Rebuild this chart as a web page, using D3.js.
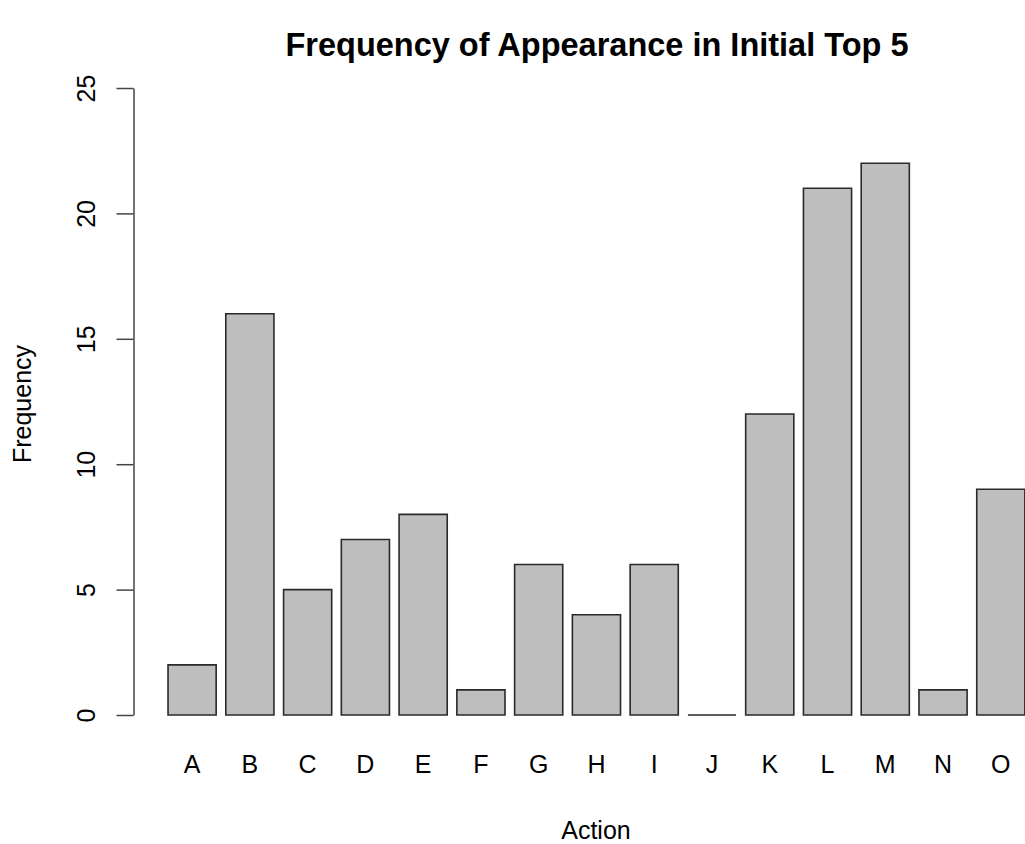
<!DOCTYPE html>
<html>
<head>
<meta charset="utf-8">
<script src="https://cdn.jsdelivr.net/npm/d3@7/dist/d3.min.js"></script>
<style>
  html, body { margin: 0; padding: 0; background: #fff; overflow: hidden; }
  text { font-family: "Liberation Sans", Arial, Helvetica, sans-serif; fill: #000; }
</style>
</head>
<body>
<svg id="chart" width="1025" height="844"></svg>
<script>
const categories = ["A","B","C","D","E","F","G","H","I","J","K","L","M","N","O"];
const values = [2,16,5,7,8,1,6,4,6,0,12,21,22,1,9];
const yTicks = [0,5,10,15,20,25];
const titleText = "Frequency of Appearance in Initial Top 5";
const xLabel = "Action";
const yLabel = "Frequency";

const svg = d3.select("#chart");

// R barplot geometry: bar width 1, space 0.2
const barW = 1, space = 0.2;
const lefts = categories.map((c, i) => space + i * (barW + space));
const x = d3.scaleLinear().domain([0, 18.2]).range([158.4, 1034.5]);
const y = d3.scaleLinear().domain([0, 25]).range([715, 88]);

// bars as closed paths (so zero-height bars still show their outline)
svg.append("g").selectAll("path").data(values).join("path")
  .attr("d", (d, i) => {
    const x0 = x(lefts[i]), x1 = x(lefts[i] + barW), y0 = y(0), y1 = y(d);
    return `M${x0},${y0}H${x1}V${y1}H${x0}Z`;
  })
  .attr("fill", "#bebebe")
  .attr("stroke", "#2a2a2a")
  .attr("stroke-width", 1.6);

// x labels
svg.append("g").selectAll("text").data(categories).join("text")
  .attr("x", (d, i) => x(lefts[i] + barW / 2))
  .attr("y", 773)
  .attr("text-anchor", "middle")
  .attr("font-size", 25)
  .text(d => d);

// y axis
const yAxis = d3.axisLeft(y).tickValues(yTicks).tickSize(17).tickSizeOuter(0).tickFormat(d3.format("d"));
const gy = svg.append("g").attr("transform", "translate(133.5,0)").call(yAxis);
gy.select(".domain").attr("stroke", "#444").attr("stroke-width", 1.5);
gy.selectAll(".tick line").attr("stroke", "#444").attr("stroke-width", 1.5);
gy.selectAll(".tick text")
  .attr("font-size", 25)
  .attr("font-family", "Liberation Sans, Arial, sans-serif")
  .attr("fill", "#000")
  .attr("x", null).attr("dy", null)
  .attr("text-anchor", "middle")
  .attr("transform", "translate(-39,0) rotate(-90)");

// title
svg.append("text")
  .attr("x", 597).attr("y", 56)
  .attr("text-anchor", "middle")
  .attr("font-size", 32.5)
  .attr("font-weight", "bold")
  .text(titleText);

// axis titles
svg.append("text")
  .attr("x", 596).attr("y", 839)
  .attr("text-anchor", "middle")
  .attr("font-size", 25)
  .text(xLabel);

svg.append("text")
  .attr("transform", "translate(31,404) rotate(-90)")
  .attr("text-anchor", "middle")
  .attr("font-size", 25)
  .text(yLabel);
</script>
</body>
</html>
